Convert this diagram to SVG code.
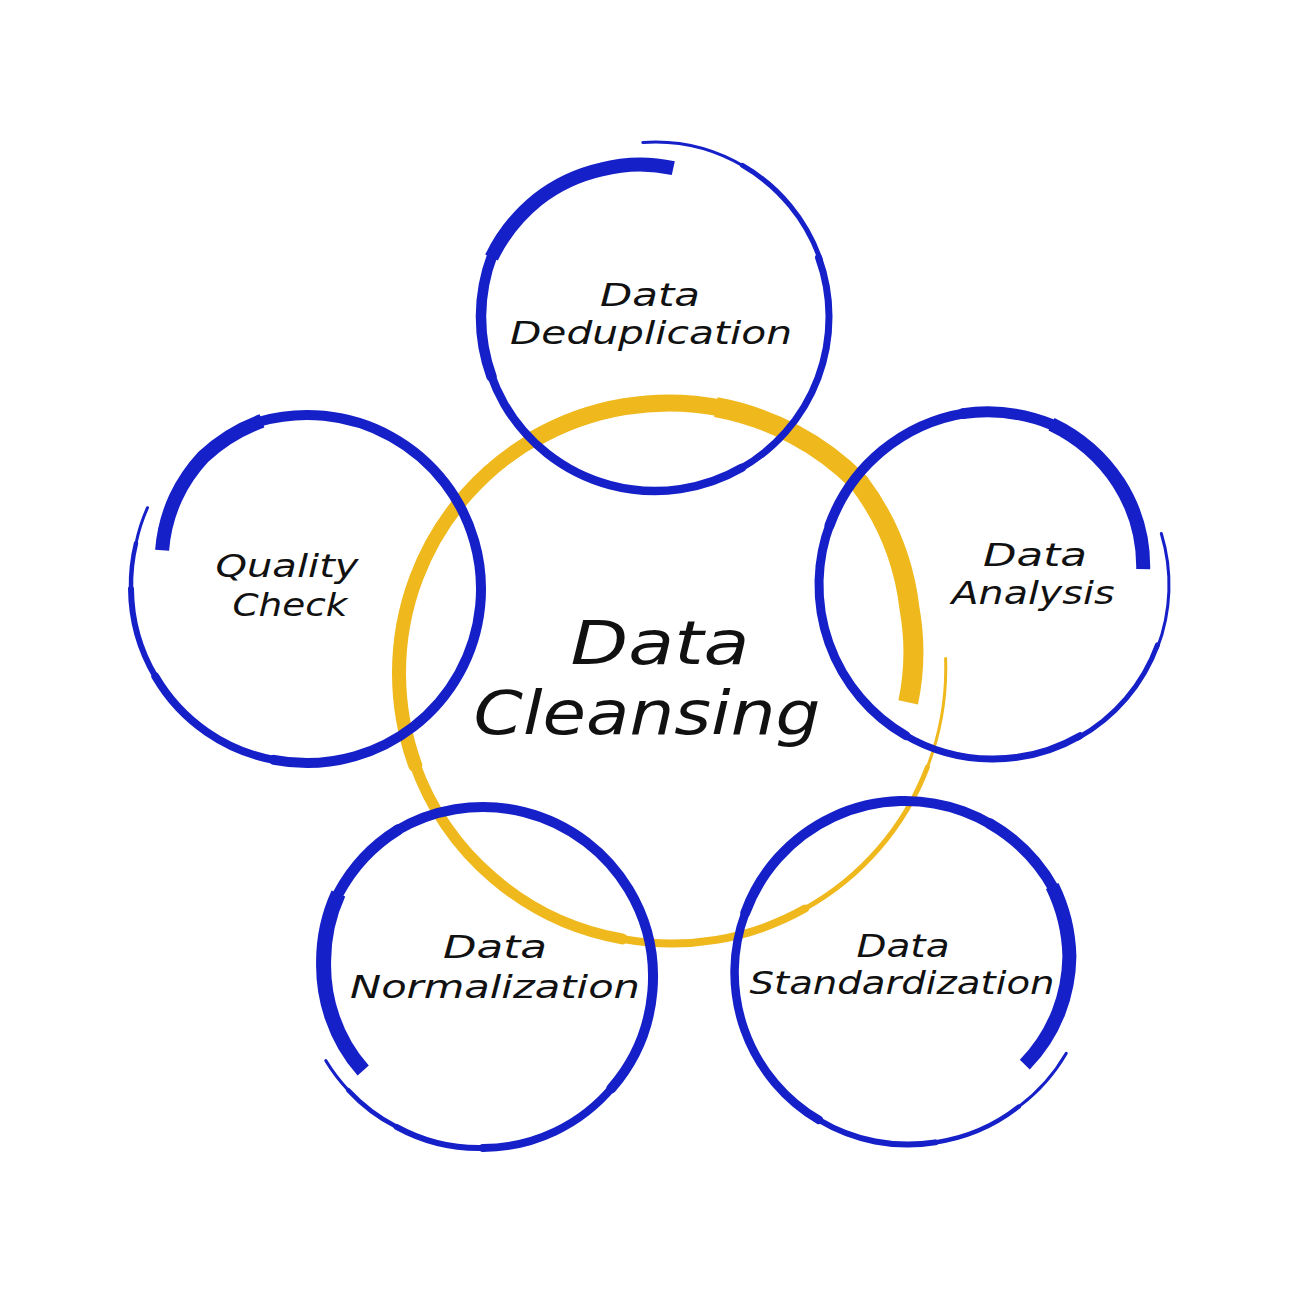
<svg xmlns="http://www.w3.org/2000/svg" width="1300" height="1300" viewBox="0 0 1300 1300">
<style>
.b{fill:none;stroke:#1520c8;stroke-linecap:round}
.y{fill:none;stroke:#efb81c;stroke-linecap:round}
.lbl{font-family:"DejaVu Sans","Liberation Sans",sans-serif;font-style:italic;font-size:32px;fill:#111;text-anchor:middle}
.big{font-family:"DejaVu Sans","Liberation Sans",sans-serif;font-style:italic;font-size:61px;fill:#111;text-anchor:middle}
</style>
<rect width="1300" height="1300" fill="#ffffff"/>

<g id="center-cleansing">
  <path class="y" d="M945.6,658.5 A276,276 0 0 1 927.4,767.1" stroke-width="3"/>
  <path class="y" d="M927.4,767.1 A273,273 0 0 1 805,908.6" stroke-width="5"/>
  <path class="y" d="M805,908.6 A271,271 0 0 1 622.1,938.9" stroke-width="8"/>
  <circle class="y" cx="669" cy="673" r="270" pathLength="360" stroke-dasharray="61 400" transform="rotate(460 669 673)" stroke-width="11"/>
  <circle class="y" cx="669" cy="673" r="270" pathLength="360" stroke-dasharray="81 400" transform="rotate(520 669 673)" stroke-width="14"/>
  <circle class="y" cx="669" cy="673" r="270" pathLength="360" stroke-dasharray="41 400" transform="rotate(600 669 673)" stroke-width="17"/>
  <path class="y" style="stroke-linecap:butt" d="M715.9,407.1 A270,270 0 0 1 859.2,482.8 A258,258 0 0 1 909.5,608.6 A245,245 0 0 1 908.2,702.4" stroke-width="20"/>
  <text class="big" x="660" y="664" textLength="179" lengthAdjust="spacingAndGlyphs">Data</text>
  <text class="big" x="647" y="734" textLength="347" lengthAdjust="spacingAndGlyphs">Cleansing</text>
</g>

<g id="node-deduplication">
  <circle class="b" cx="655" cy="317" r="175" pathLength="360" stroke-dasharray="35 400" transform="rotate(266 655 317)" stroke-width="3"/>
  <circle class="b" cx="655" cy="317" r="175" pathLength="360" stroke-dasharray="41 400" transform="rotate(300 655 317)" stroke-width="5"/>
  <circle class="b" cx="655" cy="317" r="174" pathLength="360" stroke-dasharray="81 400" transform="rotate(340 655 317)" stroke-width="7"/>
  <circle class="b" cx="655" cy="317" r="174" pathLength="360" stroke-dasharray="101 400" transform="rotate(420 655 317)" stroke-width="8.5"/>
  <circle class="b" cx="655" cy="317" r="174" pathLength="360" stroke-dasharray="41 400" transform="rotate(520 655 317)" stroke-width="10.5"/>
  <path class="b" style="stroke-linecap:butt" d="M491.5,257.5 A170,170 0 0 1 537.6,199.6 A162,162 0 0 1 601.3,169.5 A153,153 0 0 1 673.3,168.1" stroke-width="14"/>
  <text class="lbl" x="650" y="306" textLength="100" lengthAdjust="spacingAndGlyphs">Data</text>
  <text class="lbl" x="651" y="344" textLength="282" lengthAdjust="spacingAndGlyphs">Deduplication</text>
</g>

<g id="node-analysis">
  <circle class="b" cx="993" cy="585" r="176" pathLength="360" stroke-dasharray="38 400" transform="rotate(343 993 585)" stroke-width="3"/>
  <circle class="b" cx="993" cy="585" r="175" pathLength="360" stroke-dasharray="41 400" transform="rotate(380 993 585)" stroke-width="5"/>
  <circle class="b" cx="993" cy="585" r="174" pathLength="360" stroke-dasharray="61 400" transform="rotate(420 993 585)" stroke-width="7"/>
  <circle class="b" cx="993" cy="585" r="174" pathLength="360" stroke-dasharray="81 400" transform="rotate(480 993 585)" stroke-width="9"/>
  <circle class="b" cx="993" cy="585" r="174" pathLength="360" stroke-dasharray="61 400" transform="rotate(560 993 585)" stroke-width="10"/>
  <path class="b" d="M962.8,413.6 A173,173 0 0 1 1051.5,424.3" stroke-width="11"/>
  <path class="b" style="stroke-linecap:butt" d="M1051.5,424.3 A166,166 0 0 1 1118.9,483.1 A156,156 0 0 1 1143.2,569.2" stroke-width="14"/>
  <text class="lbl" x="1035" y="566" textLength="104" lengthAdjust="spacingAndGlyphs">Data</text>
  <text class="lbl" x="1033" y="604" textLength="163" lengthAdjust="spacingAndGlyphs">Analysis</text>
</g>

<g id="node-quality">
  <path class="b" style="stroke-linecap:butt" d="M162.1,550.2 A155,155 0 0 1 175.9,497.2 A164,164 0 0 1 203.6,456.6 A171,171 0 0 1 262.0,420.9" stroke-width="14"/>
  <circle class="b" cx="307" cy="589" r="174" pathLength="360" stroke-dasharray="207 400" transform="rotate(254 307 589)" stroke-width="10"/>
  <path class="b" d="M276.8,760.4 A174,174 0 0 1 155.4,676.5" stroke-width="8"/>
  <path class="b" d="M155.4,676.5 A175,175 0 0 1 131,589" stroke-width="6"/>
  <path class="b" d="M131,589 A176,176 0 0 1 136,543.2" stroke-width="4.5"/>
  <path class="b" d="M136,543.2 A178,178 0 0 1 147.5,507.7" stroke-width="3"/>
  <text class="lbl" x="287" y="577" textLength="143" lengthAdjust="spacingAndGlyphs">Quality</text>
  <text class="lbl" x="290" y="616" textLength="115" lengthAdjust="spacingAndGlyphs">Check</text>
</g>

<g id="node-normalization">
  <path class="b" style="stroke-linecap:butt" d="M363.2,1070.6 A154,154 0 0 1 332.3,1017.4 A158,158 0 0 1 323.6,963.1 A163,163 0 0 1 338.4,893.5" stroke-width="15"/>
  <path class="b" d="M338.4,893.5 A168,168 0 0 1 398,829.8" stroke-width="11"/>
  <circle class="b" cx="483" cy="977" r="170" pathLength="360" stroke-dasharray="162 400" transform="rotate(239 483 977)" stroke-width="10"/>
  <path class="b" d="M613.2,1086.3 A170,170 0 0 1 483,1148" stroke-width="8"/>
  <path class="b" d="M483,1148 A172,172 0 0 1 396.5,1126.8" stroke-width="6"/>
  <path class="b" d="M396.5,1126.8 A174,174 0 0 1 348.2,1090.1" stroke-width="4.5"/>
  <path class="b" d="M348.2,1090.1 A177,177 0 0 1 325.8,1060.6" stroke-width="3"/>
  <text class="lbl" x="495" y="958" textLength="104" lengthAdjust="spacingAndGlyphs">Data</text>
  <text class="lbl" x="495" y="998" textLength="290" lengthAdjust="spacingAndGlyphs">Normalization</text>
</g>

<g id="node-standardization">
  <path class="b" d="M1066.3,1053.2 A179,179 0 0 1 1018.8,1106.6" stroke-width="3"/>
  <path class="b" d="M1018.8,1106.6 A176,176 0 0 1 935.2,1142.4" stroke-width="4.5"/>
  <path class="b" d="M935.2,1142.4 A173,173 0 0 1 819,1120" stroke-width="6"/>
  <path class="b" d="M819,1120 A171,171 0 0 1 745.3,912.9" stroke-width="8.5"/>
  <circle class="b" cx="905" cy="971" r="170" pathLength="360" stroke-dasharray="101 400" transform="rotate(200 905 971)" stroke-width="10"/>
  <circle class="b" cx="905" cy="971" r="170" pathLength="360" stroke-dasharray="31 400" transform="rotate(300 905 971)" stroke-width="11"/>
  <path class="b" style="stroke-linecap:butt" d="M1052.2,886 A168,168 0 0 1 1069.4,956.6 A162,162 0 0 1 1058.6,1012.2 A155,155 0 0 1 1024.8,1064.6" stroke-width="14"/>
  <text class="lbl" x="903" y="957" textLength="93" lengthAdjust="spacingAndGlyphs">Data</text>
  <text class="lbl" x="902" y="994" textLength="305" lengthAdjust="spacingAndGlyphs">Standardization</text>
</g>
</svg>
